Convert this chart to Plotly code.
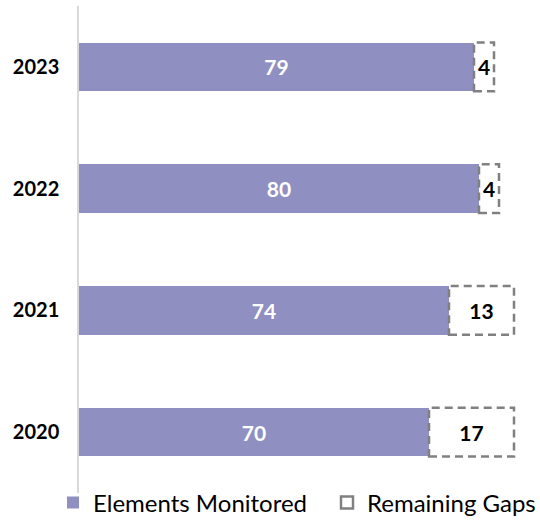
import plotly.graph_objects as go

years = ["2020", "2021", "2022", "2023"]
monitored = [70, 74, 80, 79]
gaps = [17, 13, 4, 4]

PURPLE = "#8F8FC1"
FONT = "Lato"

fig = go.Figure()
fig.add_trace(go.Bar(
    y=years, x=monitored, orientation="h", name="Elements Monitored",
    marker=dict(color=PURPLE, line=dict(width=0)),
    text=[str(v) for v in monitored], textposition="inside", insidetextanchor="middle",
    textfont=dict(color="white", size=21, family=FONT, weight="bold"),
    hoverinfo="skip", legend="legend",
))
fig.add_trace(go.Bar(
    y=years, x=gaps, orientation="h", name="Remaining Gaps", showlegend=False,
    marker=dict(color="white", line=dict(width=0)),
    text=[str(v) for v in gaps], textposition="inside", insidetextanchor="middle",
    textfont=dict(color="black", size=21, family=FONT, weight="bold"),
    constraintext="none",
    hoverinfo="skip",
))

half = 0.2
for i, (m, g) in enumerate(zip(monitored, gaps)):
    fig.add_shape(
        type="rect", xref="x", yref="y",
        x0=m, x1=m + g, y0=i - half, y1=i + half,
        line=dict(color="#808080", width=2.5, dash="8px,5px"),
        fillcolor="rgba(0,0,0,0)",
        name="Remaining Gaps", showlegend=(i == 0), legend="legend2",
    )

leg_common = dict(
    orientation="h", xanchor="left", xref="container",
    y=19 / 522, yanchor="middle", yref="container",
    font=dict(size=24, family=FONT, color="black"),
    itemwidth=30, bgcolor="rgba(0,0,0,0)",
)

fig.update_layout(
    width=540, height=522,
    barmode="stack", bargap=0.6,
    plot_bgcolor="white", paper_bgcolor="white",
    margin=dict(l=79, r=11, t=6, b=29, autoexpand=False),
    font=dict(family=FONT, size=20, color="black"),
    xaxis=dict(range=[0, 90], visible=False, showgrid=False, zeroline=False),
    yaxis=dict(
        type="category", categoryorder="array", categoryarray=years,
        range=[-0.5, 3.5],
        showline=True, linecolor="#D9D9D9", linewidth=1.5,
        showgrid=False, zeroline=False, ticks="",
        tickfont=dict(size=20, family=FONT, weight="bold", color="black"),
        ticklabelstandoff=14,
    ),
    showlegend=True,
    legend=dict(x=53 / 540, **leg_common),
    legend2=dict(x=327 / 540, **leg_common),
)

fig.write_html("out.html")
